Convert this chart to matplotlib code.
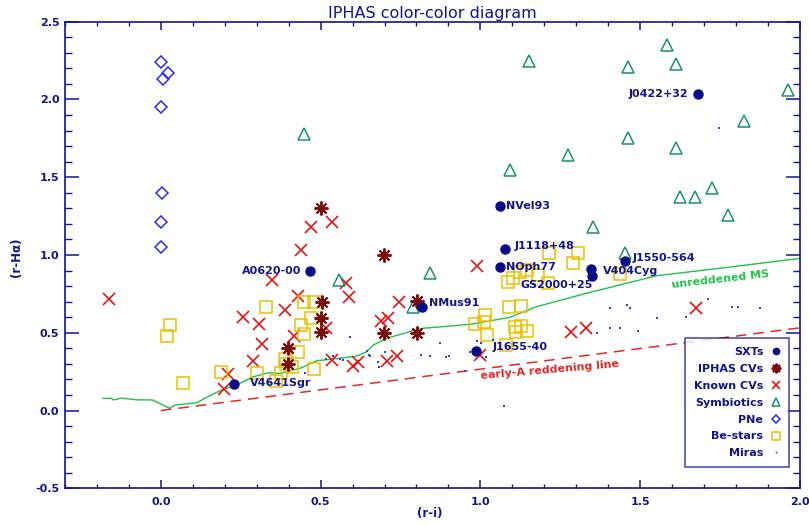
import numpy as np
import matplotlib.pyplot as plt
from matplotlib.ticker import MultipleLocator, FormatStrFormatter

plt.rcParams['axes.unicode_minus'] = False
plt.rcParams['font.family'] = 'DejaVu Sans'

NAVY = '#14148c'

# SXTs (labelled)
sxt_x = [1.682, 1.061, 1.076, 1.061, 1.345, 1.349, 1.454, 0.818, 0.987, 0.466, 0.229]
sxt_y = [2.033, 1.315, 1.037, 0.923, 0.910, 0.867, 0.963, 0.668, 0.385, 0.897, 0.168]

sxt_names = ["J0422+32", "NVel93", "J1118+48", "NOph77", "GS2000+25", "V404Cyg",
             "J1550-564", "NMus91", "J1655-40", "A0620-00", "V4641Sgr"]
name_x = [1.652, 1.080, 1.106, 1.080, 1.126, 1.384, 1.475, 0.839, 1.038, 0.440, 0.279]
name_y = [2.035, 1.315, 1.058, 0.923, 0.809, 0.897, 0.983, 0.689, 0.406, 0.897, 0.179]
name_ha = ['right', 'left', 'left', 'left', 'left', 'left', 'left', 'left', 'left', 'right', 'left']

# IPHAS CVs
iphas_x = [0.500, 0.698, 0.503, 0.500, 0.500, 0.802, 0.698, 0.802, 0.398, 0.398]
iphas_y = [1.300, 1.000, 0.700, 0.598, 0.503, 0.704, 0.500, 0.500, 0.402, 0.300]

# Known CVs
known_x = [-0.163, 0.258, 0.308, 0.318, 0.289, 0.209, 0.197, 0.349, 0.439, 0.469,
           0.536, 0.581, 0.589, 0.428, 0.389, 0.516, 0.417, 0.537, 0.602, 0.618,
           0.745, 0.688, 0.711, 0.708, 0.740, 0.990, 1.000, 1.285, 1.332, 1.674]
known_y = [0.720, 0.599, 0.558, 0.430, 0.318, 0.235, 0.138, 0.839, 1.030, 1.180,
           1.210, 0.822, 0.730, 0.738, 0.645, 0.528, 0.479, 0.325, 0.288, 0.310,
           0.700, 0.574, 0.593, 0.320, 0.350, 0.929, 0.357, 0.507, 0.529, 0.657]

# Symbiotics
symb_x = [0.449, 1.152, 1.583, 1.463, 1.613, 1.963, 1.824, 1.463, 1.613, 1.273,
          1.092, 1.724, 1.624, 1.671, 1.774, 1.353, 1.452, 0.842, 0.790, 0.558]
symb_y = [1.780, 2.250, 2.350, 2.210, 2.230, 2.060, 1.860, 1.750, 1.686, 1.640,
          1.547, 1.430, 1.375, 1.371, 1.257, 1.178, 1.015, 0.886, 0.664, 0.839]

# PNe
pne_x = [0.000, 0.023, 0.007, 0.000, 0.005, 0.000, 0.000]
pne_y = [2.240, 2.170, 2.130, 1.950, 1.400, 1.215, 1.050]

# Be-stars
be_x = [0.028, 0.018, 0.068, 0.188, 0.300, 0.360, 0.377, 0.388, 0.391, 0.410,
        0.429, 0.480, 0.329, 0.449, 0.480, 0.469, 0.438, 0.449,
        0.984, 1.012, 1.015, 1.020, 1.080, 1.089, 1.126, 1.087, 1.103, 1.124,
        1.145, 1.181, 1.212, 1.215, 1.306, 1.289, 1.437, 1.108, 1.126, 1.145, 1.111]
be_y = [0.550, 0.479, 0.179, 0.248, 0.240, 0.190, 0.244, 0.331, 0.298, 0.282,
        0.378, 0.267, 0.665, 0.700, 0.700, 0.595, 0.550, 0.491,
        0.555, 0.568, 0.617, 0.486, 0.421, 0.668, 0.672, 0.826, 0.850, 0.893,
        0.904, 0.871, 0.822, 1.011, 1.015, 0.950, 0.878, 0.535, 0.543, 0.513, 0.507]

# Miras
mira_x = [1.746, 0.451, 0.516, 0.560, 0.592, 0.539, 0.571, 0.644, 0.654, 0.680,
          0.682, 0.652, 0.701, 0.813, 0.842, 0.873, 0.892, 0.902, 0.951, 0.967,
          1.002, 0.988, 1.039, 1.019, 1.074, 1.364, 1.405, 1.437, 1.494, 1.405,
          1.458, 1.468, 1.552, 1.645, 1.713, 1.786, 1.807, 1.875]
mira_y = [1.815, 0.243, 0.329, 0.329, 0.471, 0.350, 0.325, 0.385, 0.350, 0.314,
          0.282, 0.357, 0.378, 0.357, 0.350, 0.432, 0.342, 0.350, 0.256, 0.378,
          0.432, 0.447, 0.453, 0.342, 0.029, 0.500, 0.531, 0.532, 0.511, 0.657,
          0.678, 0.657, 0.593, 0.599, 0.715, 0.668, 0.664, 0.661]

# unreddened main sequence
ms_x = [-0.181, -0.154, -0.149, -0.123, -0.076, -0.026, 0.028, 0.044, 0.112, 0.151,
        0.185, 0.226, 0.247, 0.289, 0.336, 0.372, 0.435, 0.487, 0.560, 0.613,
        0.644, 0.665, 0.706, 0.785, 0.821, 0.967, 1.092, 1.176, 1.332, 1.552,
        1.791, 2.003]
ms_y = [0.078, 0.078, 0.068, 0.080, 0.069, 0.068, 0.014, 0.035, 0.050, 0.093,
        0.127, 0.158, 0.175, 0.217, 0.243, 0.239, 0.271, 0.320, 0.336, 0.350,
        0.378, 0.421, 0.464, 0.511, 0.529, 0.554, 0.599, 0.668, 0.754, 0.867,
        0.925, 0.979]

# early-A reddening line
red_x = [0.0, 2.0]
red_y = [0.0, 0.532]

fig = plt.figure(figsize=(8.09, 5.25), dpi=100)
ax = fig.add_axes([0.0803, 0.0699, 0.9085, 0.8887])

ax.plot(ms_x, ms_y, color='#22c04a', lw=1.0, zorder=2)
ax.plot(red_x, red_y, color='#e02828', lw=1.1, ls=(0, (7, 4.5)), zorder=2)

ax.plot(sxt_x, sxt_y, 'o', color='#0a0a8a', ms=6.5, ls='none', label='SXTs', zorder=5)
ax.plot(iphas_x, iphas_y, marker=(8, 2, 0), color='#7a0a0a', mec='#7a0a0a', ms=10,
        mew=1.4, ls='none', label='IPHAS CVs', zorder=4)
ax.plot(known_x, known_y, 'x', color='#dd1515', ms=8.5, mew=1.2, ls='none',
        label='Known CVs', zorder=3)
ax.plot(symb_x, symb_y, '^', mfc='none', mec='#1a9070', ms=9, mew=1.1, ls='none',
        label='Symbiotics', zorder=3)
ax.plot(pne_x, pne_y, 'D', mfc='none', mec='#2a2af0', ms=6.5, mew=1.1, ls='none',
        label='PNe', zorder=3)
ax.plot(be_x, be_y, 's', mfc='none', mec='#e8c000', ms=9, mew=1.1, ls='none',
        label='Be-stars', zorder=3)
ax.plot(mira_x, mira_y, 's', color='#3040d0', ms=1.7, mew=0, ls='none',
        label='Miras', zorder=3)

for name, tx, ty, ha in zip(sxt_names, name_x, name_y, name_ha):
    ax.text(tx, ty, name, ha=ha, va='center', color=NAVY, fontsize=8,
            fontweight='bold', zorder=6)

ax.text(1.75, 0.84, 'unreddened MS', color='#22c04a', fontsize=8, fontweight='bold',
        rotation=6.5, ha='center', va='center')
ax.text(1.218, 0.26, 'early-A reddening line', color='#e02828', fontsize=8,
        fontweight='bold', rotation=5, ha='center', va='center')

ax.set_xlim(-0.3, 2.0)
ax.set_ylim(-0.5, 2.5)
ax.xaxis.set_major_locator(MultipleLocator(0.5))
ax.xaxis.set_minor_locator(MultipleLocator(0.1))
ax.yaxis.set_major_locator(MultipleLocator(0.5))
ax.yaxis.set_minor_locator(MultipleLocator(0.1))
ax.xaxis.set_major_formatter(FormatStrFormatter('%.1f'))
ax.yaxis.set_major_formatter(FormatStrFormatter('%.1f'))

ax.tick_params(which='both', direction='in', top=True, right=True, color=NAVY,
               labelcolor=NAVY, labelsize=8)
ax.tick_params(axis='x', which='major', length=5.8, width=1.1, pad=6)
ax.tick_params(axis='x', which='minor', length=3, width=1.0)
ax.tick_params(axis='y', which='major', length=10, width=1.1, pad=4)
ax.tick_params(axis='y', which='minor', length=5, width=1.0)
for lab in ax.get_xticklabels() + ax.get_yticklabels():
    lab.set_fontweight('bold')
for sp in ax.spines.values():
    sp.set_color(NAVY)
    sp.set_linewidth(1.2)

ax.set_title('IPHAS color-color diagram', color=NAVY, fontsize=11.5, pad=3)
fig.text(17 / 809, 1 - 257 / 525, '(r-H\u03b1)', rotation=90, color=NAVY,
         fontsize=8.5, fontweight='bold', ha='center', va='center')
fig.text(430 / 809, 1 - 513 / 525, '(r-i)', color=NAVY, fontsize=8.5,
         fontweight='bold', ha='center', va='center')

leg = ax.legend(loc='upper right', bbox_to_anchor=(0.985, 0.322), borderaxespad=0,
                markerfirst=False, numpoints=1, markerscale=0.7, fancybox=False,
                prop={'size': 8, 'weight': 'bold'}, labelspacing=0.62,
                handlelength=0.8, handletextpad=0.7, borderpad=0.8)
leg.get_frame().set_edgecolor(NAVY)
leg.get_frame().set_linewidth(1.1)
for t in leg.get_texts():
    t.set_color(NAVY)

fig.savefig('out.png', dpi=100)
